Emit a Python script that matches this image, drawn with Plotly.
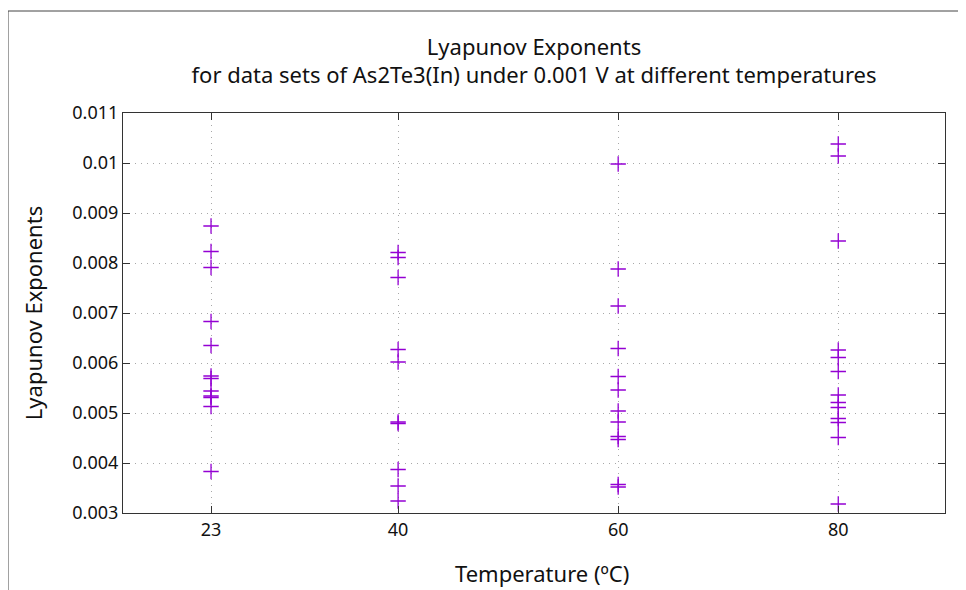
import plotly.graph_objects as go

temperatures = [23, 40, 60, 80]
lyap_23 = [0.00874, 0.00823, 0.00791, 0.00683, 0.00635, 0.00574, 0.00569,
           0.00544, 0.00534, 0.00531, 0.00513, 0.00383]
lyap_40 = [0.00821, 0.00811, 0.00771, 0.00627, 0.00602, 0.00482, 0.00479,
           0.00387, 0.00354, 0.00324]
lyap_60 = [0.00998, 0.00788, 0.00714, 0.00629, 0.00573, 0.00546, 0.00504,
           0.00482, 0.00453, 0.00447, 0.00357, 0.00352]
lyap_80 = [0.01038, 0.01014, 0.00844, 0.00626, 0.00611, 0.00583, 0.00536,
           0.00521, 0.00511, 0.00489, 0.00481, 0.00451, 0.00318]
y_ticks = [0.003, 0.004, 0.005, 0.006, 0.007, 0.008, 0.009, 0.01, 0.011]
y_tick_labels = ["0.003", "0.004", "0.005", "0.006", "0.007", "0.008", "0.009", "0.01", "0.011"]

xs, ys = [], []
for t, vals in zip(temperatures, [lyap_23, lyap_40, lyap_60, lyap_80]):
    xs += [t] * len(vals)
    ys += vals

fig = go.Figure()
fig.add_trace(go.Scatter(
    x=xs, y=ys, mode="markers",
    marker=dict(symbol="cross-thin", size=11, color="#9400D3",
                line=dict(color="#9400D3", width=1.3)),
    showlegend=False,
))

font = "Noto Sans"
grid_col = "#a8a8a8"
fig.update_layout(
    width=966, height=590,
    paper_bgcolor="white", plot_bgcolor="white",
    margin=dict(l=115, r=29, t=105, b=85),
    font=dict(family=font, color="#111111", size=16),
    title=dict(
        text="Lyapunov Exponents<br>for data sets of As2Te3(In) under 0.001 V at different temperatures",
        x=0.5, xanchor="center", xref="paper", yref="container", y=0.921, yanchor="top",
        font=dict(family=font, size=22, color="#111111"),
    ),
    xaxis=dict(
        range=[15, 89.7], tickmode="array", tickvals=temperatures,
        ticktext=[str(t) for t in temperatures],
        showgrid=True, gridcolor=grid_col, griddash="1px,5px", gridwidth=1,
        showline=True, linecolor="#333333", linewidth=1.2, mirror="ticks",
        ticks="inside", ticklen=7, tickcolor="#333333", zeroline=False,
        tickfont=dict(size=18),
    ),
    yaxis=dict(
        range=[0.003, 0.011], tickmode="array", tickvals=y_ticks,
        ticktext=y_tick_labels,
        showgrid=True, gridcolor=grid_col, griddash="1px,5px", gridwidth=1,
        showline=True, linecolor="#333333", linewidth=1.2, mirror="ticks",
        ticks="inside", ticklen=7, tickcolor="#333333", zeroline=False,
        title=dict(text="Lyapunov Exponents", font=dict(size=22), standoff=23),
        tickfont=dict(size=18),
    ),
    annotations=[dict(text="Temperature (ºC)", xref="paper", yref="paper",
                      x=0.5097, y=-0.15, xanchor="center", yanchor="middle",
                      showarrow=False, font=dict(size=22, color="#111111"))],
    shapes=[dict(type="rect", xref="paper", yref="paper",
                 x0=-0.1399, x1=1.05, y0=-0.2175, y1=1.255,
                 line=dict(color="#444444", width=1))],
)

fig.write_html("out.html")
